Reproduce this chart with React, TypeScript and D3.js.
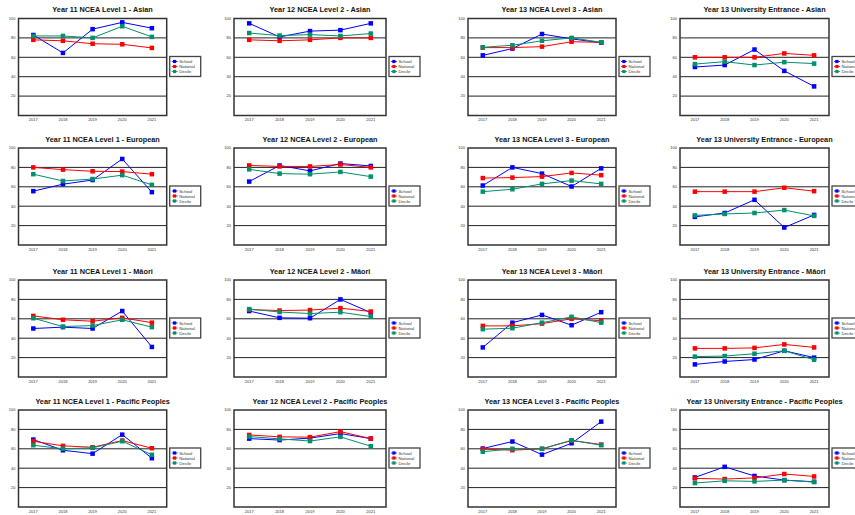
import React from 'react';
import * as d3 from 'd3';

const years = ['2017', '2018', '2019', '2020', '2021'];
const seriesNames = ['School', 'National', 'Decile'];
const seriesColors = ['#0000ff', '#ff0000', '#00906c'];
const groups = ['Asian', 'European', 'Māori', 'Pacific Peoples'];
const qualifications = ['Year 11 NCEA Level 1', 'Year 12 NCEA Level 2', 'Year 13 NCEA Level 3', 'Year 13 University Entrance'];
const yTicks = [20, 40, 60, 80, 100];

// [School, National, Decile] per panel
const asianL1 = [[83, 64.5, 89, 96, 90], [78, 77, 74, 73.4, 69.7], [82, 82, 80, 92, 81]];
const asianL2 = [[95, 81, 87, 88, 95], [78, 77, 78, 80, 80], [85, 82.4, 83.4, 82, 84.5]];
const asianL3 = [[62, 69, 84, 79, 75], [70, 70, 71, 76, 75.5], [70.3, 72.4, 77, 80, 75.5]];
const asianUE = [[50, 52, 68, 46, 30], [60, 60, 60, 64, 62], [53, 55.5, 52, 55, 53.5]];
const euroL1 = [[55.5, 62.7, 67, 88.7, 54.5], [80, 77.7, 76, 75.7, 73], [73, 66, 68, 72, 62]];
const euroL2 = [[65.4, 82, 76.4, 84, 81.5], [82, 81, 81, 83, 80], [78, 73.6, 73, 75.3, 70.5]];
const euroL3 = [[61.3, 80, 73.6, 60.3, 79], [69, 69.5, 70.5, 74.3, 72], [55, 57.5, 63, 66.4, 63]];
const euroUE = [[29, 33, 46.6, 18, 31], [55, 55, 55, 59, 55.5], [30.5, 32, 33, 36, 30]];
const maoriL1 = [[50, 51.4, 50, 68, 31], [63, 59, 57.5, 61, 56], [60.6, 52, 53, 59, 51.4]];
const maoriL2 = [[68, 61, 60.6, 80, 66.4], [69.5, 68.5, 69, 71, 67.5], [70, 67, 65.4, 66.8, 62.3]];
const maoriL3 = [[30.5, 56, 64, 53.4, 66.8], [52.7, 52.7, 55, 60, 58], [49.3, 50.3, 56, 62, 56]];
const maoriUE = [[13, 16, 18, 27, 20], [29.5, 29.5, 30, 33.6, 30.5], [21, 21.6, 24, 27, 17.8]];
const pacL1 = [[69.5, 58.5, 55, 74.6, 50.3], [67.8, 63, 61.6, 68.5, 60.6], [63.7, 60, 61, 67.8, 53.8]];
const pacL2 = [[70.5, 69, 71, 75.7, 70.5], [74.3, 72.3, 72, 77.7, 70.5], [72.6, 70.2, 68, 72.3, 62.7]];
const pacL3 = [[60.3, 67.5, 54, 65.7, 88], [59.6, 58.6, 60, 68.5, 64.4], [57, 60, 60, 68.8, 63.7]];
const pacUE = [[30.5, 41.4, 32, 27.7, 26], [29.5, 28.8, 30, 34, 31.5], [24.7, 27, 26.4, 27.7, 25.7]];

const panelData = [
  [asianL1, asianL2, asianL3, asianUE],
  [euroL1, euroL2, euroL3, euroUE],
  [maoriL1, maoriL2, maoriL3, maoriUE],
  [pacL1, pacL2, pacL3, pacUE],
];

const colLeft = [18.5, 234, 468, 680];
const colRight = [166.7, 386, 616, 829];
const rowTop = [18.5, 148, 280, 410];
const plotH = 97;
const font = "'Liberation Sans', Arial, Helvetica, sans-serif";

function Panel({ row, col }: { row: number; col: number }) {
  const left = colLeft[col];
  const right = colRight[col];
  const top = rowTop[row];
  const bottom = top + plotH;
  const x = d3.scalePoint<string>().domain(years).range([left, right]).padding(0.5);
  const y = d3.scaleLinear().domain([0, 100]).range([bottom, top]);
  const line = d3
    .line<number>()
    .x((_, i) => x(years[i]) as number)
    .y((d) => y(d));
  const data = panelData[row][col];
  const title = `${qualifications[col]} - ${groups[row]}`;
  const lx = right + 3;
  const ly = top + 38;
  const ms = 4.5;
  return (
    <g>
      <text
        x={(left + right) / 2 + 10}
        y={top - 6.5}
        textAnchor="middle"
        fontFamily={font}
        fontWeight="bold"
        fontSize={7.3}
        fill="#111"
      >
        {title}
      </text>
      {yTicks.slice(0, 4).map((t) => (
        <line key={t} x1={left} x2={right} y1={y(t)} y2={y(t)} stroke="#222" strokeWidth={1} />
      ))}
      <rect x={left} y={top} width={right - left} height={plotH} fill="none" stroke="#333" strokeWidth={1.5} />
      {yTicks.map((t) => (
        <text key={t} x={left - 3} y={y(t) + 1.3} textAnchor="end" fontFamily={font} fontSize={4} fill="#333">
          {t}
        </text>
      ))}
      {years.map((yr) => (
        <text key={yr} x={x(yr)} y={bottom + 5.5} textAnchor="middle" fontFamily={font} fontSize={4} fill="#333">
          {yr}
        </text>
      ))}
      {data.map((s, si) => (
        <g key={si}>
          <path d={line(s) || ''} fill="none" stroke={seriesColors[si]} strokeWidth={1} />
          {s.map((v, i) => (
            <rect
              key={i}
              x={(x(years[i]) as number) - ms / 2}
              y={y(v) - ms / 2}
              width={ms}
              height={ms}
              fill={seriesColors[si]}
            />
          ))}
        </g>
      ))}
      <rect x={lx} y={ly} width={31} height={20} fill="#fff" stroke="#444" strokeWidth={1.3} />
      {seriesNames.map((n, i) => {
        const cy = ly + 5 + i * 5;
        return (
          <g key={n}>
            <line x1={lx + 2} x2={lx + 8} y1={cy} y2={cy} stroke={seriesColors[i]} strokeWidth={0.8} />
            <rect x={lx + 3.3} y={cy - 1.6} width={3.2} height={3.2} fill={seriesColors[i]} />
            <text x={lx + 9.5} y={cy + 1.5} fontFamily={font} fontSize={4.3} fill="#333">
              {n}
            </text>
          </g>
        );
      })}
    </g>
  );
}

export default function App() {
  return (
    <svg
      width={855}
      height={515}
      style={{ position: 'absolute', left: 0, top: 0, background: '#fff' }}
    >
      <rect x={0} y={0} width={855} height={515} fill="#fff" />
      {groups.map((_, r) => qualifications.map((_, c) => <Panel key={`${r}-${c}`} row={r} col={c} />))}
    </svg>
  );
}
